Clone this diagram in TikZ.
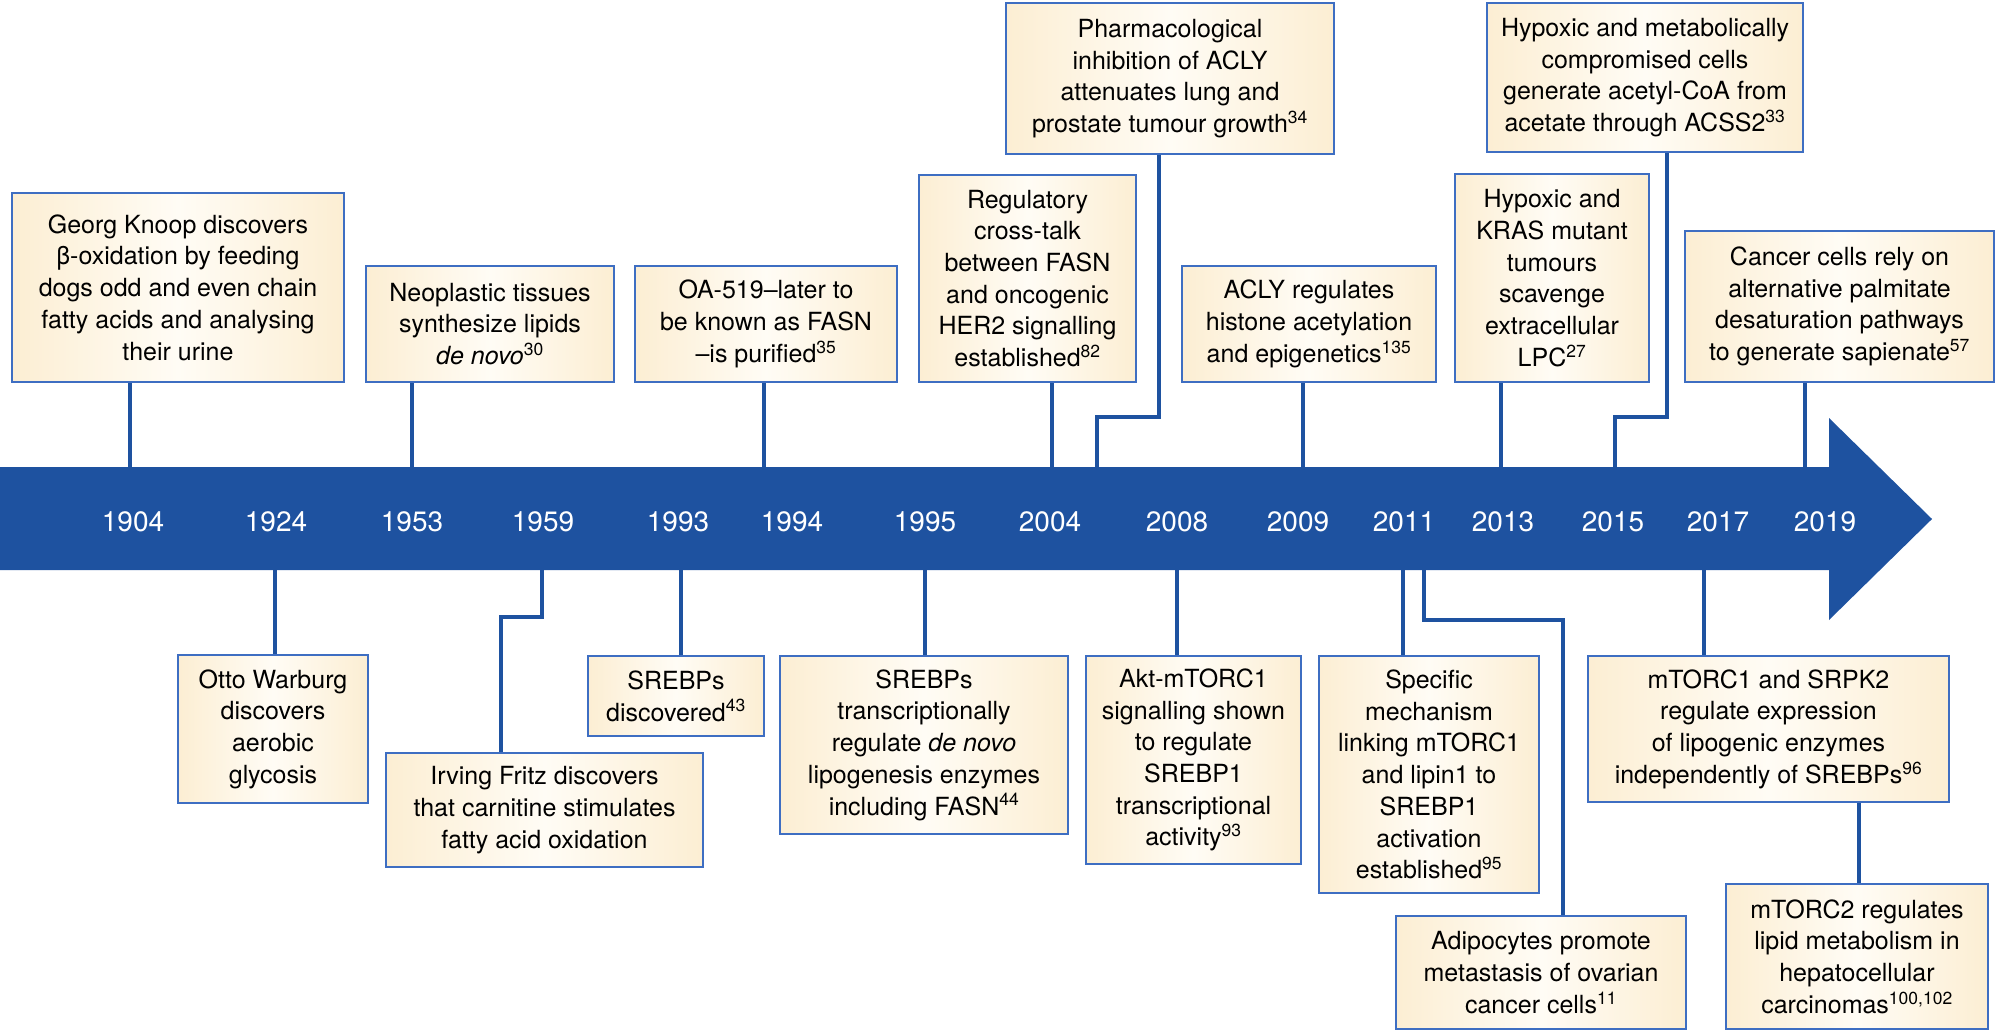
\documentclass[tikz,border=0pt]{standalone}
\usepackage{fontspec}
\setmainfont{TeX Gyre Heros}
\definecolor{bandblue}{HTML}{1E52A0}
\definecolor{boxline}{HTML}{3E6EC2}
\definecolor{cream}{HTML}{FCEED3}
\definecolor{creamlt}{HTML}{FFFCF5}
\newcommand{\bfnt}{\fontsize{25}{31.7}\selectfont}
\newcommand{\yfnt}{\fontsize{28}{30}\selectfont}
\newcommand{\ebox}[6]{\node[evbox, minimum width={(#4-#2)*1pt}, minimum height={(#5-#3)*1pt}] (#1) at ({(#2+#4)/2},{(#3+#5)/2}) {#6};}
\newcommand{\rf}[1]{\textsuperscript{#1}}
\begin{document}
\begin{tikzpicture}[x=1pt,y=-1pt,
  evbox/.style={draw=boxline, line width=2pt, left color=cream, right color=cream, middle color=creamlt, align=center, inner sep=0pt, font=\bfnt, text=black},
  conn/.style={draw=bandblue, line width=3.5pt, line join=miter},
  yr/.style={text=white, font=\yfnt, inner sep=0pt}]
\useasboundingbox (0,0) rectangle (1996,1031);

% timeline arrow
\fill[bandblue] (0,467) -- (1829,467) -- (1829,418) -- (1932,519) -- (1829,620) -- (1829,570) -- (0,570) -- cycle;

% years
\foreach \yx/\yl in {133/1904,276/1924,412/1953,543/1959,678/1993,792/1994,925/1995,1050/2004,1177/2008,1298/2009,1404/2011,1503/2013,1613/2015,1718/2017,1825/2019}
  \node[yr] (y\yl) at (\yx,522) {\yl};

% top boxes
\ebox{georg}{12}{193}{344}{382}{Georg Knoop discovers\\β-oxidation by feeding\\dogs odd and even chain\\fatty acids and analysing\\their urine}
\ebox{neo}{366}{266}{614}{382}{Neoplastic tissues\\synthesize lipids\\\textit{de novo}\rf{30}}
\ebox{oa}{635}{266}{897}{382}{OA-519--later to\\be known as FASN\\--is purified\rf{35}}
\ebox{reg}{919}{175}{1136}{382}{Regulatory\\cross-talk\\between FASN\\and oncogenic\\HER2 signalling\\established\rf{82}}
\ebox{pharm}{1006}{3}{1334}{154}{Pharmacological\\inhibition of ACLY\\attenuates lung and\\prostate tumour growth\rf{34}}
\ebox{acly}{1182}{266}{1436}{382}{ACLY regulates\\histone acetylation\\and epigenetics\rf{135}}
\ebox{kras}{1455}{174}{1649}{382}{Hypoxic and\\KRAS mutant\\tumours\\scavenge\\extracellular\\LPC\rf{27}}
\ebox{acss}{1487}{3}{1803}{152}{Hypoxic and metabolically\\compromised cells\\generate acetyl-CoA from\\acetate through ACSS2\rf{33}}
\ebox{cancer}{1685}{231}{1994}{382}{Cancer cells rely on\\alternative palmitate\\desaturation pathways\\to generate sapienate\rf{57}}

% bottom boxes
\ebox{otto}{178}{655}{368}{803}{Otto Warburg\\discovers\\aerobic\\glycosis}
\ebox{irving}{386}{753}{703}{867}{Irving Fritz discovers\\that carnitine stimulates\\fatty acid oxidation}
\ebox{srebd}{588}{656}{764}{736}{SREBPs\\discovered\rf{43}}
\ebox{srebt}{780}{656}{1068}{834}{SREBPs\\transcriptionally\\regulate \textit{de novo}\\lipogenesis enzymes\\including FASN\rf{44}}
\ebox{akt}{1086}{656}{1301}{864}{Akt-mTORC1\\signalling shown\\to regulate\\SREBP1\\transcriptional\\activity\rf{93}}
\ebox{spec}{1319}{656}{1539}{893}{Specific\\mechanism\\linking mTORC1\\and lipin1 to\\SREBP1\\activation\\established\rf{95}}
\ebox{adipo}{1396}{916}{1686}{1029}{Adipocytes promote\\metastasis of ovarian\\cancer cells\rf{11}}
\ebox{mtorcA}{1588}{656}{1949}{802}{mTORC1 and SRPK2\\regulate expression\\of lipogenic enzymes\\independently of SREBPs\rf{96}}
\ebox{mtorcB}{1726}{884}{1988}{1029}{mTORC2 regulates\\lipid metabolism in\\hepatocellular\\carcinomas\rf{100,102}}

% attachment points on the band
\coordinate (tGeorg) at (130,467);
\coordinate (tNeo) at (412,467);
\coordinate (tOa) at (764,467);
\coordinate (tReg) at (1052,467);
\coordinate (tAcly) at (1303,467);
\coordinate (tKras) at (1501,467);
\coordinate (tCancer) at (1805,467);
\coordinate (pharmA) at (1159,417);
\coordinate (pharmB) at (1097,417);
\coordinate (tPharm) at (1097,467);
\coordinate (acssA) at (1667,417);
\coordinate (acssB) at (1615,417);
\coordinate (tAcss) at (1615,467);
\coordinate (bOtto) at (275,570);
\coordinate (bIrv) at (542,570);
\coordinate (irvA) at (542,617);
\coordinate (irvB) at (501,617);
\coordinate (bSrebd) at (681,570);
\coordinate (bSrebt) at (925,570);
\coordinate (bAkt) at (1177,570);
\coordinate (bSpec) at (1403,570);
\coordinate (bAdipo) at (1424,570);
\coordinate (adA) at (1424,620);
\coordinate (adB) at (1563,620);
\coordinate (bMtorc) at (1704,570);
\coordinate (mB) at (1859,0);

% connectors
\draw[conn] (georg.south -| tGeorg) -- (tGeorg);
\draw[conn] (neo.south -| tNeo) -- (tNeo);
\draw[conn] (oa.south -| tOa) -- (tOa);
\draw[conn] (reg.south -| tReg) -- (tReg);
\draw[conn] (acly.south -| tAcly) -- (tAcly);
\draw[conn] (kras.south -| tKras) -- (tKras);
\draw[conn] (cancer.south -| tCancer) -- (tCancer);
\draw[conn] (pharm.south -| pharmA) -- (pharmA) -- (pharmB) -- (tPharm);
\draw[conn] (acss.south -| acssA) -- (acssA) -- (acssB) -- (tAcss);
\draw[conn] (bOtto) -- (otto.north -| bOtto);
\draw[conn] (bIrv) -- (irvA) -- (irvB) -- (irving.north -| irvB);
\draw[conn] (bSrebd) -- (srebd.north -| bSrebd);
\draw[conn] (bSrebt) -- (srebt.north -| bSrebt);
\draw[conn] (bAkt) -- (akt.north -| bAkt);
\draw[conn] (bSpec) -- (spec.north -| bSpec);
\draw[conn] (bAdipo) -- (adA) -- (adB) -- (adipo.north -| adB);
\draw[conn] (bMtorc) -- (mtorcA.north -| bMtorc);
\draw[conn] (mtorcA.south -| mB) -- (mtorcB.north -| mB);
\end{tikzpicture}
\end{document}
